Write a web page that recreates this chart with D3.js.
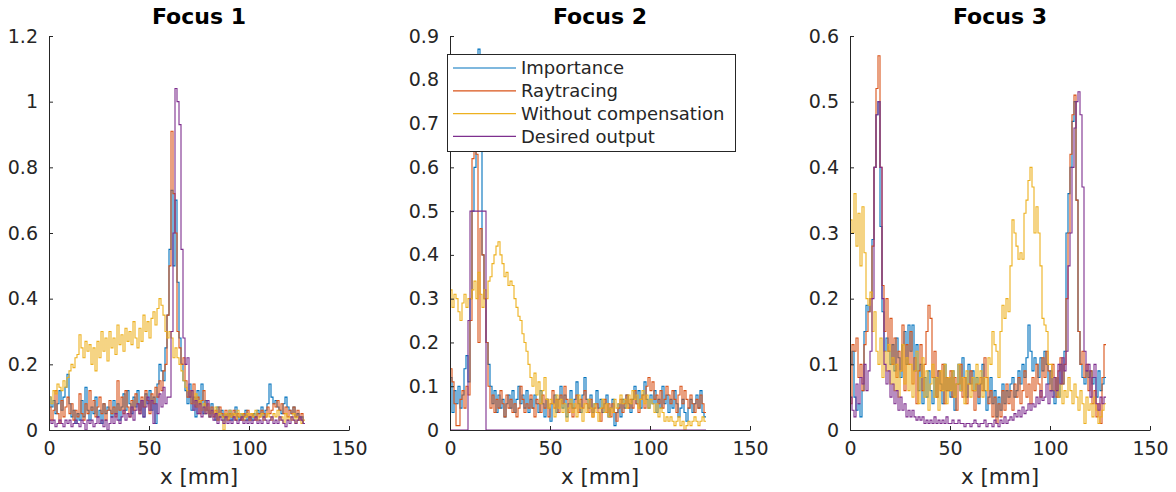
<!DOCTYPE html>
<html><head><meta charset="utf-8">
<script src="https://cdn.jsdelivr.net/npm/d3@7"></script>
<style>
body{margin:0;background:#fff;}
svg text{font-family:"DejaVu Sans",sans-serif;fill:#262626;}
</style>
</head><body>
<svg id="chart" width="1176" height="492"></svg>
<script>
// ---------- data ----------
const seriesNames = ["Importance", "Raytracing", "Without compensation", "Desired output"];
const seriesColors = ["#0072BD", "#D95319", "#EDB120", "#7E2F8E"];
const panelTitles = ["Focus 1", "Focus 2", "Focus 3"];
const xTickValues = [0, 50, 100, 150];
const yTicksFocus1 = [0, 0.2, 0.4, 0.6, 0.8, 1, 1.2];
const yTicksFocus2 = [0, 0.1, 0.2, 0.3, 0.4, 0.5, 0.6, 0.7, 0.8, 0.9];
const yTicksFocus3 = [0, 0.1, 0.2, 0.3, 0.4, 0.5, 0.6];

// Focus 1 (one sample per mm, 0..127)
const f1Importance = [
0.10,0.07,0.09,0.05,0.08,0.12,0.06,0.10,0.13,0.17,
0.08,0.04,0.06,0.02,0.05,0.03,0.09,0.04,0.13,0.06,
0.03,0.07,0.05,0.10,0.04,0.06,0.02,0.08,0.05,0.07,
0.06,0.04,0.09,0.05,0.08,0.03,0.07,0.11,0.06,0.12,
0.08,0.05,0.10,0.07,0.12,0.06,0.09,0.04,0.11,0.08,
0.12,0.06,0.10,0.02,0.14,0.20,0.18,0.15,0.25,0.35,
0.55,0.73,0.50,0.70,0.45,0.28,0.20,0.15,0.12,0.08,
0.14,0.06,0.10,0.04,0.12,0.08,0.14,0.05,0.09,0.06,
0.04,0.08,0.05,0.03,0.07,0.04,0.06,0.03,0.05,0.04,
0.06,0.03,0.05,0.07,0.04,0.03,0.05,0.04,0.06,0.03,
0.04,0.03,0.05,0.04,0.06,0.05,0.07,0.04,0.06,0.08,
0.14,0.10,0.08,0.09,0.07,0.06,0.05,0.08,0.10,0.07,
0.06,0.05,0.07,0.04,0.05,0.03,0.04,0.02];
const f1Raytracing = [
0.07,0.03,0.06,0.12,0.05,0.02,0.09,0.04,0.07,0.10,
0.05,0.08,0.03,0.06,0.04,0.11,0.05,0.03,0.08,0.05,
0.12,0.06,0.09,0.04,0.07,0.10,0.05,0.08,0.03,0.06,
0.09,0.05,0.07,0.04,0.15,0.06,0.10,0.05,0.12,0.07,
0.04,0.09,0.06,0.11,0.08,0.05,0.10,0.07,0.12,0.09,
0.05,0.11,0.08,0.13,0.10,0.15,0.12,0.18,0.20,0.35,
0.50,0.91,0.72,0.60,0.30,0.25,0.20,0.22,0.15,0.10,
0.12,0.08,0.14,0.07,0.10,0.05,0.09,0.12,0.06,0.08,
0.05,0.07,0.04,0.06,0.03,0.07,0.05,0.04,0.06,0.03,
0.05,0.04,0.06,0.03,0.05,0.04,0.03,0.05,0.04,0.06,
0.03,0.05,0.04,0.03,0.05,0.04,0.06,0.05,0.04,0.07,
0.05,0.06,0.08,0.07,0.09,0.06,0.08,0.05,0.07,0.04,
0.06,0.05,0.07,0.04,0.06,0.03,0.05,0.02];
const f1Without = [
0.10,0.08,0.12,0.11,0.14,0.13,0.12,0.15,0.13,0.16,
0.18,0.20,0.19,0.22,0.23,0.29,0.25,0.22,0.27,0.24,
0.26,0.20,0.25,0.18,0.27,0.22,0.30,0.24,0.28,0.21,
0.30,0.25,0.28,0.23,0.32,0.26,0.29,0.24,0.31,0.27,
0.30,0.26,0.33,0.28,0.25,0.31,0.27,0.35,0.30,0.33,
0.28,0.34,0.36,0.32,0.37,0.40,0.38,0.35,0.30,0.28,
0.30,0.28,0.22,0.25,0.22,0.20,0.18,0.15,0.13,0.12,
0.10,0.12,0.08,0.11,0.07,0.09,0.06,0.08,0.05,0.07,
0.04,0.06,0.05,0.07,0.03,0.05,0.04,0.00,0.05,0.03,
0.06,0.04,0.05,0.03,0.06,0.04,0.05,0.03,0.04,0.05,
0.03,0.05,0.04,0.06,0.03,0.04,0.05,0.03,0.04,0.05,
0.04,0.03,0.05,0.04,0.06,0.03,0.04,0.02,0.05,0.03,
0.04,0.03,0.05,0.02,0.04,0.03,0.02,0.03];
const f1Desired = [
0.03,0.02,0.03,0.01,0.02,0.03,0.02,0.01,0.03,0.02,
0.03,0.01,0.02,0.03,0.02,0.01,0.03,0.02,0.00,0.03,
0.02,0.03,0.01,0.02,0.04,0.02,0.03,0.01,0.03,0.00,
0.02,0.04,0.02,0.05,0.03,0.02,0.04,0.06,0.03,0.05,
0.04,0.07,0.03,0.06,0.08,0.05,0.09,0.04,0.07,0.10,
0.06,0.09,0.02,0.08,0.05,0.11,0.07,0.13,0.08,0.10,
0.10,0.30,0.60,1.04,1.00,0.93,0.55,0.28,0.20,0.22,
0.10,0.12,0.06,0.09,0.05,0.08,0.04,0.07,0.05,0.09,
0.04,0.06,0.03,0.05,0.02,0.04,0.03,0.02,0.04,0.02,
0.03,0.02,0.04,0.03,0.02,0.03,0.04,0.02,0.03,0.02,
0.04,0.02,0.03,0.04,0.02,0.03,0.02,0.04,0.03,0.02,
0.03,0.04,0.02,0.03,0.02,0.04,0.03,0.02,0.01,0.03,
0.02,0.04,0.03,0.02,0.03,0.04,0.03,0.02];

// Focus 2
const f2Importance = [
0.12,0.04,0.09,0.06,0.10,0.05,0.08,0.14,0.17,0.11,
0.30,0.50,0.60,0.70,0.87,0.65,0.40,0.30,0.20,0.15,
0.10,0.06,0.09,0.04,0.08,0.05,0.07,0.03,0.06,0.08,
0.05,0.09,0.04,0.07,0.10,0.06,0.08,0.05,0.09,0.04,
0.07,0.05,0.08,0.06,0.04,0.09,0.06,0.03,0.07,0.05,
0.02,0.06,0.08,0.04,0.07,0.10,0.05,0.08,0.03,0.06,
0.09,0.05,0.07,0.11,0.06,0.04,0.08,0.12,0.07,0.05,
0.08,0.04,0.06,0.09,0.05,0.07,0.04,0.06,0.08,0.03,
0.05,0.07,0.01,0.04,0.06,0.03,0.07,0.05,0.08,0.06,
0.04,0.07,0.10,0.06,0.09,0.05,0.08,0.11,0.07,0.05,
0.08,0.06,0.09,0.04,0.07,0.05,0.10,0.06,0.08,0.04,
0.07,0.05,0.09,0.06,0.03,0.05,0.07,0.04,0.02,0.05,
0.07,0.04,0.06,0.08,0.05,0.09,0.04,0.03];
const f2Raytracing = [
0.14,0.11,0.06,0.01,0.01,0.07,0.09,0.05,0.10,0.08,
0.25,0.62,0.70,0.63,0.20,0.46,0.40,0.30,0.20,0.10,
0.05,0.08,0.04,0.07,0.05,0.09,0.06,0.03,0.08,0.05,
0.07,0.04,0.06,0.03,0.05,0.10,0.07,0.04,0.06,0.05,
0.08,0.05,0.03,0.07,0.06,0.04,0.08,0.05,0.07,0.03,
0.06,0.09,0.05,0.07,0.04,0.08,0.06,0.10,0.07,0.04,
0.06,0.03,0.05,0.08,0.04,0.07,0.05,0.09,0.06,0.04,
0.07,0.03,0.05,0.06,0.04,0.02,0.05,0.07,0.04,0.06,
0.03,0.06,0.04,0.02,0.05,0.07,0.04,0.06,0.08,0.05,
0.07,0.05,0.09,0.06,0.04,0.07,0.08,0.05,0.10,0.12,
0.09,0.11,0.07,0.08,0.06,0.09,0.05,0.07,0.10,0.08,
0.06,0.09,0.07,0.04,0.08,0.10,0.06,0.09,0.07,0.05,
0.08,0.06,0.04,0.07,0.05,0.08,0.06,0.04];
const f2Without = [
0.32,0.28,0.31,0.30,0.27,0.25,0.29,0.31,0.28,0.30,
0.30,0.32,0.34,0.30,0.36,0.31,0.28,0.32,0.30,0.34,
0.35,0.38,0.40,0.42,0.43,0.40,0.38,0.35,0.36,0.33,
0.34,0.33,0.30,0.28,0.26,0.25,0.22,0.20,0.18,0.15,
0.12,0.10,0.13,0.08,0.11,0.06,0.09,0.12,0.07,0.05,
0.07,0.06,0.03,0.08,0.05,0.07,0.04,0.06,0.02,0.05,
0.07,0.04,0.06,0.03,0.08,0.05,0.02,0.06,0.04,0.07,
0.05,0.03,0.06,0.04,0.02,0.05,0.07,0.04,0.06,0.03,
0.05,0.04,0.07,0.05,0.06,0.08,0.06,0.07,0.05,0.08,
0.06,0.09,0.07,0.08,0.05,0.07,0.09,0.06,0.08,0.05,
0.07,0.06,0.04,0.06,0.03,0.05,0.04,0.02,0.03,0.02,
0.03,0.02,0.01,0.02,0.03,0.01,0.02,0.00,0.01,0.02,
0.01,0.02,0.03,0.02,0.01,0.02,0.03,0.02];
const f2Desired = [
0,0,0,0,0,0,0,0,0,0.25,
0.5,0.5,0.5,0.5,0.5,0.5,0.5,0.5,0,0,
0,0,0,0,0,0,0,0,0,0,
0,0,0,0,0,0,0,0,0,0,
0,0,0,0,0,0,0,0,0,0,
0,0,0,0,0,0,0,0,0,0,
0,0,0,0,0,0,0,0,0,0,
0,0,0,0,0,0,0,0,0,0,
0,0,0,0,0,0,0,0,0,0,
0,0,0,0,0,0,0,0,0,0,
0,0,0,0,0,0,0,0,0,0,
0,0,0,0,0,0,0,0,0,0,
0,0,0,0,0,0,0,0];

// Focus 3
const f3Importance = [
0.10,0.12,0.05,0.03,0.04,0.02,0.06,0.15,0.19,0.18,
0.20,0.29,0.40,0.48,0.50,0.31,0.18,0.12,0.14,0.12,
0.10,0.13,0.09,0.14,0.11,0.08,0.13,0.15,0.10,0.16,
0.12,0.16,0.09,0.13,0.06,0.10,0.04,0.08,0.05,0.09,
0.06,0.04,0.08,0.05,0.09,0.07,0.04,0.10,0.06,0.08,
0.05,0.09,0.03,0.07,0.10,0.06,0.11,0.08,0.05,0.10,
0.07,0.09,0.06,0.08,0.04,0.07,0.10,0.06,0.03,0.05,
0.08,0.04,0.06,0.02,0.05,0.03,0.07,0.04,0.06,0.05,
0.07,0.08,0.05,0.06,0.09,0.07,0.10,0.08,0.11,0.16,
0.12,0.09,0.11,0.10,0.08,0.11,0.09,0.12,0.10,0.07,
0.09,0.06,0.04,0.08,0.05,0.10,0.07,0.12,0.30,0.36,
0.40,0.47,0.50,0.35,0.15,0.10,0.08,0.07,0.09,0.08,
0.09,0.07,0.08,0.05,0.09,0.06,0.07,0.08];
const f3Raytracing = [
0.04,0.13,0.12,0.14,0.08,0.10,0.06,0.13,0.15,0.18,
0.20,0.28,0.40,0.52,0.57,0.40,0.22,0.15,0.20,0.12,
0.17,0.10,0.14,0.08,0.12,0.09,0.16,0.06,0.13,0.10,
0.15,0.07,0.11,0.04,0.09,0.13,0.06,0.10,0.15,0.19,
0.17,0.08,0.12,0.05,0.09,0.06,0.10,0.04,0.08,0.06,
0.09,0.05,0.08,0.03,0.07,0.10,0.05,0.08,0.04,0.07,
0.09,0.06,0.03,0.07,0.05,0.08,0.06,0.11,0.08,0.04,
0.06,0.02,0.05,0.01,0.04,0.02,0.06,0.03,0.07,0.04,
0.06,0.03,0.07,0.05,0.08,0.04,0.06,0.09,0.05,0.07,
0.04,0.08,0.06,0.10,0.07,0.05,0.11,0.08,0.12,0.09,
0.06,0.10,0.08,0.05,0.09,0.11,0.07,0.10,0.20,0.30,
0.42,0.48,0.51,0.35,0.15,0.10,0.12,0.08,0.10,0.06,
0.09,0.04,0.06,0.02,0.04,0.01,0.08,0.13];
const f3Without = [
0.32,0.30,0.36,0.28,0.33,0.25,0.34,0.27,0.20,0.19,
0.21,0.15,0.18,0.12,0.10,0.14,0.08,0.12,0.09,0.13,
0.07,0.11,0.06,0.10,0.05,0.09,0.13,0.07,0.11,0.06,
0.10,0.05,0.09,0.12,0.04,0.08,0.11,0.05,0.09,0.03,
0.07,0.10,0.05,0.08,0.03,0.09,0.06,0.10,0.04,0.08,
0.06,0.09,0.05,0.07,0.10,0.06,0.08,0.04,0.09,0.07,
0.05,0.08,0.06,0.10,0.07,0.09,0.05,0.08,0.06,0.11,
0.10,0.15,0.13,0.12,0.08,0.15,0.19,0.17,0.20,0.18,
0.25,0.32,0.30,0.28,0.26,0.27,0.26,0.33,0.35,0.38,
0.40,0.37,0.30,0.34,0.30,0.25,0.17,0.16,0.15,0.10,
0.10,0.08,0.06,0.08,0.05,0.07,0.04,0.06,0.05,0.08,
0.06,0.04,0.07,0.05,0.03,0.06,0.04,0.01,0.05,0.03,
0.04,0.02,0.05,0.03,0.01,0.02,0.03,0.04];
const f3Desired = [
0.05,0.03,0.02,0.07,0.04,0.08,0.07,0.10,0.06,0.09,
0.12,0.20,0.40,0.48,0.50,0.40,0.20,0.10,0.07,0.09,
0.05,0.07,0.04,0.06,0.03,0.05,0.03,0.04,0.02,0.03,
0.02,0.03,0.02,0.015,0.02,0.015,0.02,0.01,0.015,0.01,
0.015,0.01,0.02,0.01,0.015,0.01,0.015,0.01,0.02,0.01,
0.01,0.015,0.01,0.01,0.015,0.01,0.01,0.005,0.01,0.01,
0.005,0.01,0.015,0.01,0.005,0.01,0.01,0.015,0.005,0.01,
0.01,0.005,0.015,0.01,0.005,0.015,0.01,0.02,0.01,0.015,
0.02,0.015,0.025,0.02,0.03,0.02,0.035,0.025,0.03,0.04,
0.03,0.04,0.035,0.05,0.04,0.06,0.045,0.05,0.07,0.04,
0.06,0.05,0.08,0.06,0.10,0.07,0.11,0.09,0.12,0.25,
0.30,0.40,0.46,0.50,0.515,0.48,0.37,0.12,0.09,0.10,
0.05,0.08,0.10,0.04,0.03,0.05,0.04,0.05];

// ---------- drawing ----------
const panels = [
  {title: panelTitles[0], yMax: 1.2, yTicks: yTicksFocus1, left: 49,
   series: [f1Importance, f1Raytracing, f1Without, f1Desired]},
  {title: panelTitles[1], yMax: 0.9, yTicks: yTicksFocus2, left: 450,
   series: [f2Importance, f2Raytracing, f2Without, f2Desired], legend: true},
  {title: panelTitles[2], yMax: 0.6, yTicks: yTicksFocus3, left: 850,
   series: [f3Importance, f3Raytracing, f3Without, f3Desired]}
];

const svg = d3.select("#chart");
const plotW = 300, yTop = 36, yBottom = 430;
const axisColor = "#262626";

panels.forEach(p => {
  const x = d3.scaleLinear().domain([0, 150]).range([p.left, p.left + plotW]);
  const y = d3.scaleLinear().domain([0, p.yMax]).range([yBottom, yTop]);
  const g = svg.append("g");

  // data lines (stairs)
  const line = d3.line()
    .x((d, i) => x(i))
    .y(d => y(d))
    .curve(d3.curveStepAfter);
  p.series.forEach((vals, k) => {
    const pts = vals.concat([vals[vals.length - 1]]);
    g.append("path")
      .datum(pts)
      .attr("d", line)
      .attr("fill", "none")
      .attr("stroke", seriesColors[k])
      .attr("stroke-width", 1.1)
      .attr("stroke-linejoin", "miter");
  });

  // axes
  const xAxis = d3.axisBottom(x).tickValues(xTickValues).tickSizeInner(-4).tickSizeOuter(0).tickPadding(12)
    .tickFormat(d => String(d));
  const yAxis = d3.axisLeft(y).tickValues(p.yTicks).tickSizeInner(-4).tickSizeOuter(0).tickPadding(11)
    .tickFormat(d => String(d));

  const gx = g.append("g").attr("transform", `translate(0,${yBottom})`).call(xAxis);
  const gy = g.append("g").attr("transform", `translate(${p.left},0)`).call(yAxis);
  [gx, gy].forEach(a => {
    a.attr("font-family", null).attr("font-size", null);
    a.select(".domain").attr("stroke", axisColor).attr("stroke-width", 1);
    a.selectAll(".tick line").attr("stroke", axisColor).attr("stroke-width", 1);
    a.selectAll(".tick text").style("font-size", "19px").attr("fill", axisColor);
  });

  // title
  g.append("text")
    .attr("x", x(75)).attr("y", 24)
    .attr("text-anchor", "middle")
    .style("font-size", "22px").style("font-weight", "bold")
    .style("fill", "#000")
    .text(p.title);

  // x label
  g.append("text")
    .attr("x", x(75)).attr("y", 484)
    .attr("text-anchor", "middle")
    .style("font-size", "21.5px")
    .text("x [mm]");

  // legend
  if (p.legend) {
    const lg = svg.append("g");
    const lx = 447, ly = 54, lw = 288, lh = 97;
    lg.append("rect").attr("x", lx + 0.5).attr("y", ly + 0.5).attr("width", lw).attr("height", lh)
      .attr("fill", "#fff").attr("stroke", axisColor).attr("stroke-width", 1);
    seriesNames.forEach((name, k) => {
      const cy = 68 + k * 22.8;
      lg.append("line").attr("x1", 453).attr("x2", 516).attr("y1", cy).attr("y2", cy)
        .attr("stroke", seriesColors[k]).attr("stroke-width", 1.2);
      lg.append("text").attr("x", 521).attr("y", cy).attr("dy", "0.35em")
        .style("font-size", "18px").text(name);
    });
  }
});
</script>
</body></html>
